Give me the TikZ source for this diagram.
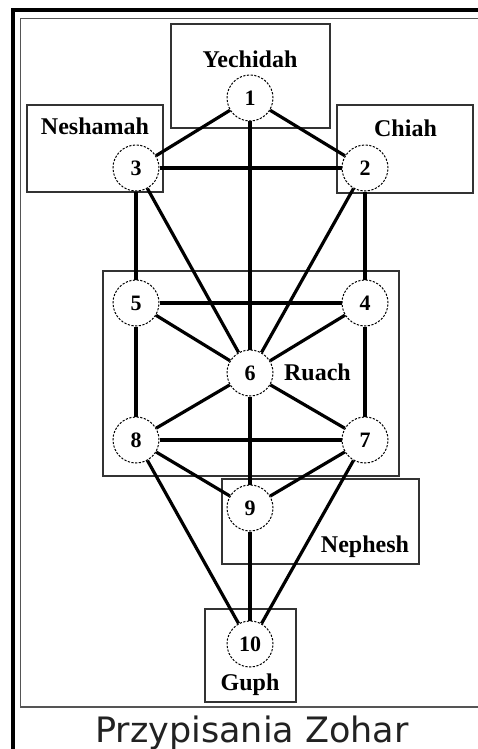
\documentclass[tikz,border=0pt]{standalone}
\usepackage{fontspec}
\setmainfont{Liberation Serif}
\newfontfamily\captionfont{DejaVu Sans}
\usepackage{xcolor}
\usepackage{tikz}
\usetikzlibrary{positioning}
\definecolor{framegray}{HTML}{555555}
\definecolor{capgray}{HTML}{222222}
\tikzset{
  sefira/.style={circle, draw=black, dash pattern=on 2.2pt off 1.5pt,
                 line width=1pt, fill=white, minimum size=46pt,
                 inner sep=0pt, font=\fontsize{22}{24}\selectfont\bfseries},
  soulbox/.style={rectangle, draw=black!80, line width=1.5pt, inner sep=0pt},
  soullabel/.style={anchor=base, inner sep=0pt,
                    font=\fontsize{24}{26}\selectfont\bfseries},
  linkline/.style={line width=3.2pt, draw=black},
}

\begin{document}
\begin{tikzpicture}[x=1pt, y=-1pt]

  \useasboundingbox (0,0) rectangle (478,749);

  %% Frame
  \draw[line width=3.5pt] (13,749) -- (13,10) -- (478,10);
  \draw[framegray, line width=1.8pt] (478,18.5) -- (20.5,18.5)
        -- (20.5,707) -- (478,707);

  %% Boxes of the soul levels
  \node[soulbox, minimum width=159pt, minimum height=104pt] (yechbox)  at (250.5,76)  {};
  \node[soulbox, minimum width=136pt, minimum height=87pt]  (neshbox)  at (95,148.5)  {};
  \node[soulbox, minimum width=136pt, minimum height=88pt]  (chiahbox) at (405,149)   {};
  \node[soulbox, minimum width=296pt, minimum height=205pt] (ruachbox) at (251,373.5) {};
  \node[soulbox, minimum width=197pt, minimum height=85pt]  (nephbox)  at (320.5,521.5) {};
  \node[soulbox, minimum width=91pt,  minimum height=93pt]  (guphbox)  at (250.5,655.5) {};

  %% Labels
  \node[soullabel] (yechlbl)  at (250,68)  {Yechidah};
  \node[soullabel] (neshlbl)  at (95,135)  {Neshamah};
  \node[soullabel] (chiahlbl) at (405.5,136) {Chiah};
  \node[soullabel] (ruachlbl) at (317.5,380) {Ruach};
  \node[soullabel] (nephlbl)  at (365,552) {Nephesh};
  \node[soullabel] (guphlbl)  at (250,690) {Guph};

  %% Sefirot
  \node[sefira] (s1)  at (250,98)  {1};
  \node[sefira] (s2)  at (365,168) {2};
  \node[sefira] (s3)  at (136,168) {3};
  \node[sefira] (s4)  at (365,303) {4};
  \node[sefira] (s5)  at (136,303) {5};
  \node[sefira] (s6)  at (250,373) {6};
  \node[sefira] (s7)  at (365,440) {7};
  \node[sefira] (s8)  at (136,440) {8};
  \node[sefira] (s9)  at (250,508) {9};
  \node[sefira] (s10) at (250,644) {10};

  %% Paths
  \draw[linkline] (s1) -- (s3);
  \draw[linkline] (s1) -- (s2);
  \draw[linkline] (s1) -- (s6);
  \draw[linkline] (s3) -- (s2);
  \draw[linkline] (s3) -- (s5);
  \draw[linkline] (s3) -- (s6);
  \draw[linkline] (s2) -- (s4);
  \draw[linkline] (s2) -- (s6);
  \draw[linkline] (s5) -- (s4);
  \draw[linkline] (s5) -- (s6);
  \draw[linkline] (s4) -- (s6);
  \draw[linkline] (s5) -- (s8);
  \draw[linkline] (s4) -- (s7);
  \draw[linkline] (s6) -- (s8);
  \draw[linkline] (s6) -- (s7);
  \draw[linkline] (s6) -- (s9);
  \draw[linkline] (s8) -- (s7);
  \draw[linkline] (s8) -- (s9);
  \draw[linkline] (s7) -- (s9);
  \draw[linkline] (s8) -- (s10);
  \draw[linkline] (s7) -- (s10);
  \draw[linkline] (s9) -- (s10);

  %% Caption
  \node[font=\captionfont\fontsize{35}{40}\selectfont, text=capgray,
        anchor=base] (caption) at (252,742) {Przypisania Zohar};

\end{tikzpicture}
\end{document}
